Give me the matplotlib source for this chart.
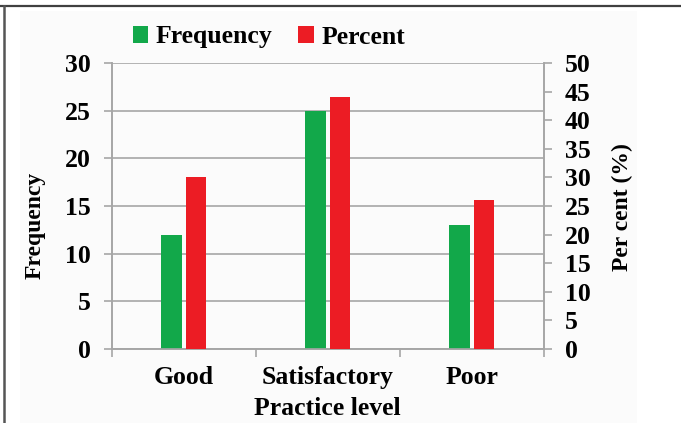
import matplotlib
matplotlib.use("Agg")
import matplotlib.pyplot as plt
import numpy as np
from matplotlib.patches import Patch, Rectangle
from matplotlib.lines import Line2D

categories = ["Good", "Satisfactory", "Poor"]
frequency = [12, 25, 13]
percent = [30, 44, 26]
freq_ticks = [0, 5, 10, 15, 20, 25, 30]
pct_ticks = [0, 5, 10, 15, 20, 25, 30, 35, 40, 45, 50]

GREEN = "#12a84a"
RED = "#ec1c24"
GRID = "#a6a6a6"
FONT = "Liberation Serif"
FS = 18.5
FS_V = 17

plt.rcParams["font.family"] = FONT
plt.rcParams["font.weight"] = "bold"

fig = plt.figure(figsize=(6.81, 4.23), dpi=100)
fig.patch.set_facecolor("white")

# soft panel behind the chart
fig.add_artist(Rectangle((20 / 681, 0.0), (637 - 20) / 681, 1 - 11 / 423,
                         transform=fig.transFigure, facecolor="#fbfbfb",
                         edgecolor="none", zorder=-5))
# frame lines
fig.add_artist(Line2D([0, 1], [1 - 6.5 / 423] * 2, transform=fig.transFigure,
                      color="#404040", lw=1.6))
fig.add_artist(Line2D([3.5 / 681] * 2, [0, 1 - 6.5 / 423], transform=fig.transFigure,
                      color="#555555", lw=1.8))

ax = fig.add_axes([112 / 681, 1 - 349 / 423, (544 - 112) / 681, (349 - 63) / 423])
ax.set_facecolor("none")
ax2 = ax.twinx()

x = np.arange(len(categories))
w = 0.148
off = 0.085
ax.bar(x - off, frequency, width=w, color=GREEN, zorder=3)
ax2.bar(x + off, percent, width=w * 0.95, color=RED, zorder=3)

ax.set_xlim(-0.5, 2.5)
ax.set_ylim(0, 30)
ax2.set_ylim(0, 50)
ax.set_yticks(freq_ticks)
ax2.set_yticks(pct_ticks)
ax.grid(axis="y", color=GRID, lw=1.2, zorder=0)
ax.set_axisbelow(True)

for a in (ax, ax2):
    for s in a.spines.values():
        s.set_color(GRID)
        s.set_linewidth(1.2)
    a.spines["top"].set_visible(False)

ax.set_xticks(x)
ax.set_xticklabels(categories)
ax.set_xticks([-0.5, 0.5, 1.5, 2.5], minor=True)
ax.tick_params(axis="x", which="major", length=0, pad=12, labelsize=FS)
ax.tick_params(axis="x", which="minor", length=6, width=1.2, color=GRID)
ax.tick_params(axis="y", length=6, width=1.2, color=GRID, pad=9, labelsize=FS)
ax2.tick_params(axis="y", length=6, width=1.2, color=GRID, pad=9, labelsize=FS)
for lab in ax.get_xticklabels() + ax.get_yticklabels() + ax2.get_yticklabels():
    lab.set_fontweight("bold")

fig.text(35 / 681, 1 - 225 / 423, "Frequency", rotation=90, ha="center", va="center",
         fontsize=FS_V, fontweight="bold")
fig.text(622 / 681, 1 - 207 / 423, "Per cent (%)", rotation=90, ha="center", va="center",
         fontsize=FS_V, fontweight="bold")
fig.text(327 / 681, 1 - 408 / 423, "Practice level", ha="center", va="center",
         fontsize=FS, fontweight="bold")

handles = [Patch(facecolor=GREEN, label="Frequency"), Patch(facecolor=RED, label="Percent")]
fig.legend(handles=handles, loc="center", bbox_to_anchor=(269 / 681, 1 - 37 / 423),
           ncol=2, frameon=False, prop={"family": FONT, "weight": "bold", "size": FS},
           handlelength=0.6, handleheight=0.6, handletextpad=0.3, columnspacing=1.0,
           borderaxespad=0)

fig.savefig("out.png", dpi=100, facecolor="white")
